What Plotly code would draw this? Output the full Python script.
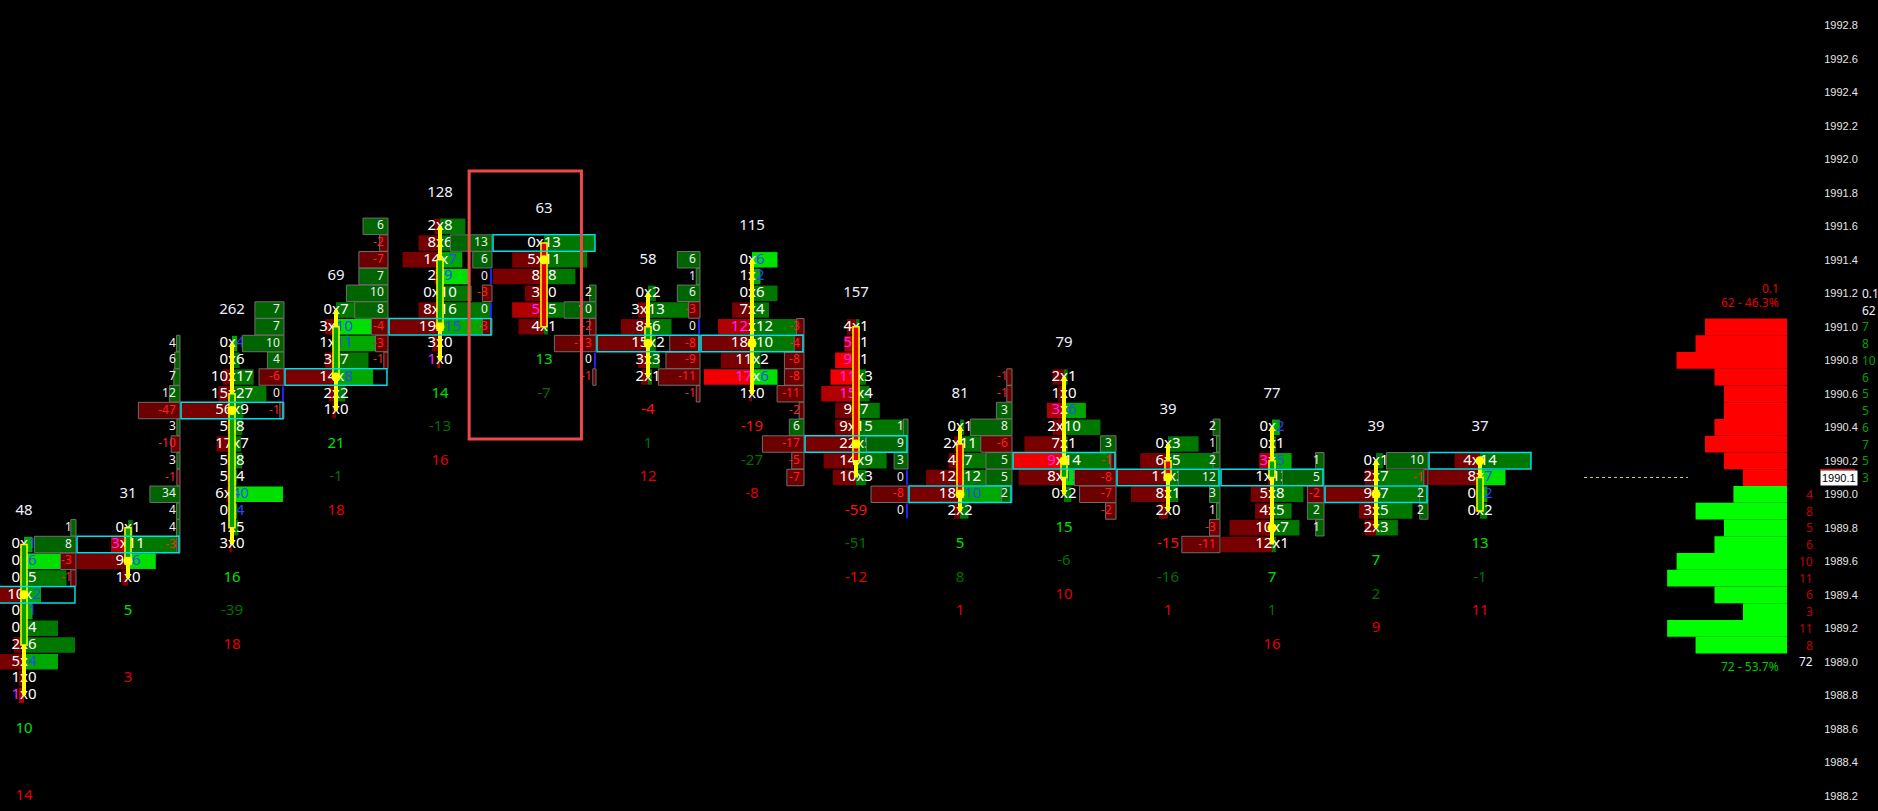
import plotly.graph_objects as go

# ---------------- data ----------------
# top price of each footprint candle, rows listed top -> bottom (tick 0.1)
C_TOP = [1989.7, 1989.8, 1990.9, 1991.1, 1991.6, 1991.5, 1991.2, 1991.4,
         1991.0, 1990.4, 1990.7, 1990.3, 1990.4, 1990.2, 1990.2]
BIDS = [
    [0, 0, 0, 10, 0, 0, 2, 5, 1, 1],
    [0, 3, 9, 1],
    [0, 0, 10, 15, 56, 5, 17, 5, 5, 6, 0, 1, 3],
    [0, 3, 1, 3, 14, 2, 1],
    [2, 8, 14, 2, 0, 8, 19, 3, 1],
    [0, 5, 8, 3, 5, 4],
    [0, 3, 8, 15, 3, 2],
    [0, 1, 0, 7, 12, 18, 11, 17, 1],
    [4, 5, 9, 11, 15, 9, 9, 22, 14, 10],
    [0, 2, 4, 12, 18, 2],
    [2, 1, 3, 2, 7, 9, 8, 0],
    [0, 6, 11, 8, 2],
    [0, 0, 3, 1, 5, 4, 10, 12],
    [0, 2, 9, 3, 2],
    [4, 8, 0, 0],
]
ASKS = [
    [1, 6, 5, 2, 1, 4, 6, 4, 0, 0],
    [1, 11, 6, 0],
    [4, 6, 17, 27, 9, 8, 7, 8, 4, 40, 4, 5, 0],
    [7, 10, 11, 7, 8, 2, 0],
    [8, 6, 7, 9, 10, 16, 15, 0, 0],
    [13, 11, 8, 0, 5, 1],
    [2, 13, 6, 2, 3, 1],
    [6, 2, 6, 4, 12, 10, 2, 6, 0],
    [1, 1, 1, 3, 4, 7, 15, 5, 9, 3],
    [1, 11, 7, 12, 10, 2],
    [1, 0, 6, 10, 1, 14, 13, 2],
    [3, 5, 3, 1, 0],
    [2, 1, 5, 13, 8, 5, 7, 1],
    [1, 7, 7, 5, 3],
    [14, 7, 2, 2],
]
OPEN = [1989.1, 1989.6, 1989.8, 1990.7, 1991.0, 1991.5, 1990.9, 1990.9,
        1991.0, 1990.3, 1990.1, 1990.2, 1990.1, 1990.0, 1989.9]
CLOSE = [1989.7, 1989.8, 1990.6, 1991.0, 1991.4, 1991.0, 1991.0, 1990.9,
         1990.2, 1990.0, 1990.2, 1990.1, 1990.2, 1990.0, 1990.1]
STAT2 = [None, None, -39, -1, -13, -7, 1, -27, -51, 8, -6, -16, 1, 2, -1]
STAT3 = [14, 3, 18, 18, 16, None, 12, -8, -12, 1, 10, 1, 16, 9, 11]

LAST_PRICE = 1990.1
TICK_SIZE_LABEL = "0.1"
PROFILE_UPPER_PRICES = [1991.0, 1990.9, 1990.8, 1990.7, 1990.6, 1990.5, 1990.4, 1990.3, 1990.2, 1990.1]
PROFILE_UPPER = [7, 8, 10, 6, 5, 5, 6, 7, 5, 3]
PROFILE_LOWER_PRICES = [1990.0, 1989.9, 1989.8, 1989.7, 1989.6, 1989.5, 1989.4, 1989.3, 1989.2, 1989.1]
PROFILE_LOWER = [4, 8, 5, 6, 10, 11, 6, 3, 11, 8]

Y_TICKS = [1988.2, 1988.4, 1988.6, 1988.8, 1989.0, 1989.2, 1989.4, 1989.6,
           1989.8, 1990.0, 1990.2, 1990.4, 1990.6, 1990.8, 1991.0, 1991.2,
           1991.4, 1991.6, 1991.8, 1992.0, 1992.2, 1992.4, 1992.6, 1992.8]
Y_TICK_LABELS = [f"{v:.1f}" for v in Y_TICKS]

HIGHLIGHT_CANDLE = 5
HIGHLIGHT_PRICE_LOW = 1990.33
HIGHLIGHT_PRICE_HIGH = 1991.93

# ---------------- style ----------------
FONT = "Noto Sans"
PLOT_W = 1787          # px width of plotting area
TICK = 0.1
HALF = 0.49            # max half-width of bid/ask bars (candle units)
DELTA_W = 0.40         # max width of delta column boxes
DELTA_MIN = 0.03
ROW_H = 0.092
PROFILE_PAD = 1.658    # minimum length added to profile bars
X_MIN = -24 / 104
X_MAX = (PLOT_W - 24) / 104

N = len(C_TOP)

bid_y, bid_base, bid_len, bid_col = [], [], [], []
ask_y, ask_base, ask_len, ask_col = [], [], [], []
txt_x, txt_y, txt_s = [], [], []
d_y, d_base, d_len, d_col = [], [], [], []
z_y, z_base = [], []
dt_x, dt_y, dt_s, dt_c = [], [], [], []
cy_y, cy_base = [], []
poc_x, poc_y = [], []
wick_x, wick_y = [], []
body_x, body_base, body_h, body_col = [], [], [], []
top_x, top_y, top_s = [], [], []
st_x, st_y, st_s, st_c = [], [], [], []

for i in range(N):
    bids, asks = BIDS[i], ASKS[i]
    n = len(bids)
    prices = [round(C_TOP[i] - TICK * k, 1) for k in range(n)]
    mb = max(bids) or 1
    ma = max(asks) or 1
    deltas = [a - b for a, b in zip(asks, bids)]
    md = max(abs(d) for d in deltas) or 1
    delta_visible = (i - 0.5) > X_MIN
    for k in range(n):
        b, a, p = bids[k], asks[k], prices[k]
        has_above = k > 0
        has_below = k < n - 1
        ask_above = asks[k - 1] if has_above else 0
        bid_below = bids[k + 1] if has_below else 0
        bid_imb = has_above and b > 0 and b >= 3 * ask_above
        ask_imb = has_below and a > 0 and a >= 3 * bid_below
        if b > 0:
            bid_y.append(p); bid_base.append(i); bid_len.append(-b / mb * HALF)
            if bid_imb:
                bid_col.append("#f00000" if b / max(ask_above, 1) >= 6 else "#b00000")
            else:
                bid_col.append("#780000")
        if a > 0:
            ask_y.append(p); ask_base.append(i); ask_len.append(a / ma * HALF)
            if ask_imb:
                ask_col.append("#00e000" if a / max(bid_below, 1) >= 6 else "#00a800")
            else:
                ask_col.append("#007800")
        bs = f'<span style="color:#ff20ff">{b}</span>' if bid_imb else f"{b}"
        as_ = f'<span style="color:#2848ff">{a}</span>' if ask_imb else f"{a}"
        txt_x.append(i); txt_y.append(p); txt_s.append(f"{bs}x{as_}")
        # delta column (left of candle)
        if delta_visible:
            d = deltas[k]
            if d == 0:
                z_y.append(p); z_base.append(i - 0.5)
            else:
                d_y.append(p); d_base.append(i - 0.5)
                d_len.append(-max(abs(d) / md * DELTA_W, DELTA_MIN))
                d_col.append("#006400" if d > 0 else "#6b0000")
            dt_x.append(i - 0.5 - 0.04); dt_y.append(p); dt_s.append(str(d))
            dt_c.append("#f0f0f0" if d >= 0 else "#ff2020")
    # max single volume row (cyan), POC (dot)
    singles = [max(b, a) for b, a in zip(bids, asks)]
    cy_y.append(prices[singles.index(max(singles))]); cy_base.append(i - HALF)
    tots = [b + a for b, a in zip(bids, asks)]
    poc_x.append(i); poc_y.append(prices[tots.index(max(tots))])
    hi, lo = prices[0], prices[-1]
    wick_x += [i, i, None]; wick_y += [hi, lo, None]
    if OPEN[i] != CLOSE[i]:
        body_x.append(i); body_base.append(min(OPEN[i], CLOSE[i]))
        body_h.append(abs(CLOSE[i] - OPEN[i]))
        body_col.append("#00a000" if CLOSE[i] > OPEN[i] else "#e00000")
    top_x.append(i); top_y.append(hi + 0.2); top_s.append(str(sum(tots)))
    dsum = sum(deltas)
    st_x.append(i); st_y.append(lo - 0.2); st_s.append(str(dsum))
    st_c.append("#00e000" if dsum >= 0 else "#ff1010")
    if STAT2[i] is not None:
        st_x.append(i); st_y.append(lo - 0.4); st_s.append(str(STAT2[i])); st_c.append("#007000")
    if STAT3[i] is not None:
        st_x.append(i); st_y.append(lo - 0.6); st_s.append(str(STAT3[i])); st_c.append("#e00000")

fig = go.Figure()
common = dict(hoverinfo="skip", showlegend=False)

fig.add_trace(go.Bar(orientation="h", y=bid_y, x=bid_len, base=bid_base, width=ROW_H,
                     marker=dict(color=bid_col, line_width=0), zorder=0, **common))
fig.add_trace(go.Bar(orientation="h", y=ask_y, x=ask_len, base=ask_base, width=ROW_H,
                     marker=dict(color=ask_col, line_width=0), zorder=0, **common))
fig.add_trace(go.Scatter(x=txt_x, y=txt_y, text=txt_s, mode="text", textposition="middle center",
                         textfont=dict(family=FONT, size=15, color="#ffffff"), zorder=1, **common))
fig.add_trace(go.Scatter(x=wick_x, y=wick_y, mode="lines", line=dict(color="#ffff00", width=4),
                         zorder=2, **common))
fig.add_trace(go.Bar(x=body_x, y=body_h, base=body_base, width=0.058,
                     marker=dict(color=body_col, line=dict(color="#ffff00", width=1.5)),
                     zorder=3, **common))
fig.add_trace(go.Scatter(x=poc_x, y=poc_y, mode="markers",
                         marker=dict(color="#ffff00", size=9), zorder=4, **common))
fig.add_trace(go.Bar(orientation="h", y=d_y, x=d_len, base=d_base, width=0.098,
                     marker=dict(color=d_col, line=dict(color="#6e6e6e", width=1)), zorder=5, **common))
fig.add_trace(go.Bar(orientation="h", y=z_y, x=[-0.018] * len(z_y), base=z_base, width=0.09,
                     marker=dict(color="#2020ff", line_width=0), zorder=5, **common))
fig.add_trace(go.Bar(orientation="h", y=cy_y, x=[2 * HALF] * len(cy_y), base=cy_base, width=0.098,
                     marker=dict(color="rgba(0,0,0,0)", line=dict(color="#00e0e8", width=1.5)),
                     zorder=5, **common))
fig.add_trace(go.Scatter(x=dt_x, y=dt_y, text=dt_s, mode="text", textposition="middle left",
                         textfont=dict(family=FONT, size=12, color=dt_c), zorder=6, **common))
fig.add_trace(go.Scatter(x=top_x, y=top_y, text=top_s, mode="text", textposition="middle center",
                         textfont=dict(family=FONT, size=15, color="#eef0ff"), zorder=6, **common))
fig.add_trace(go.Scatter(x=st_x, y=st_y, text=st_s, mode="text", textposition="middle center",
                         textfont=dict(family=FONT, size=15, color=st_c), zorder=6, **common))
# last price dotted line in next slot
fig.add_trace(go.Scatter(x=[N, N + 1], y=[LAST_PRICE, LAST_PRICE], mode="lines",
                         line=dict(color="#d8d800", width=1, dash="dot"), zorder=6, **common))
# volume profile
fig.add_trace(go.Bar(orientation="h", y=PROFILE_UPPER_PRICES, x=[v + PROFILE_PAD for v in PROFILE_UPPER],
                     base=-PROFILE_PAD, width=TICK, xaxis="x2", yaxis="y",
                     marker=dict(color="#ff0000", line_width=0), **common))
fig.add_trace(go.Bar(orientation="h", y=PROFILE_LOWER_PRICES, x=[v + PROFILE_PAD for v in PROFILE_LOWER],
                     base=-PROFILE_PAD, width=TICK, xaxis="x2", yaxis="y",
                     marker=dict(color="#00ff00", line_width=0), **common))

up_sum, lo_sum = sum(PROFILE_UPPER), sum(PROFILE_LOWER)
tot = up_sum + lo_sum
ann = []
def px(v):
    return v / PLOT_W
for p, v in zip(PROFILE_UPPER_PRICES, PROFILE_UPPER):
    ann.append(dict(x=px(1860), y=p, text=str(v), xanchor="left", font=dict(color="#00a000", size=12, family=FONT)))
for p, v in zip(PROFILE_LOWER_PRICES, PROFILE_LOWER):
    ann.append(dict(x=px(1815), y=p, text=str(v), xanchor="right", font=dict(color="#c40000", size=12, family=FONT)))
top_p = PROFILE_UPPER_PRICES[0]
bot_p = PROFILE_LOWER_PRICES[-1]
ann.append(dict(x=px(1860), y=round(top_p + 2 * TICK, 1), text=TICK_SIZE_LABEL, xanchor="left",
                font=dict(color="#eef0ff", size=12, family=FONT)))
ann.append(dict(x=px(1860), y=round(top_p + TICK, 1), text=str(up_sum), xanchor="left",
                font=dict(color="#eef0ff", size=12, family=FONT)))
ann.append(dict(x=px(1815), y=round(bot_p - TICK, 1), text=str(lo_sum), xanchor="right",
                font=dict(color="#eef0ff", size=12, family=FONT)))
ann.append(dict(x=px(1781), y=top_p + 0.226, text=TICK_SIZE_LABEL, xanchor="right",
                font=dict(color="#e00000", size=12, family=FONT)))
ann.append(dict(x=px(1781), y=top_p + 0.142, text=f"{up_sum} - {up_sum / tot * 100:.1f}%", xanchor="right",
                font=dict(color="#e00000", size=12, family=FONT)))
ann.append(dict(x=px(1781), y=bot_p - 0.13, text=f"{lo_sum} - {lo_sum / tot * 100:.1f}%", xanchor="right",
                font=dict(color="#00c800", size=12, family=FONT)))
ann.append(dict(x=px(1820), y=LAST_PRICE, text=f"{LAST_PRICE:.1f}", xanchor="left", bgcolor="#ffffff",
                borderpad=1, font=dict(color="#000000", size=11, family="Liberation Sans")))
for a in ann:
    a.update(xref="paper", yref="y", showarrow=False, yanchor="middle")

shapes = [
    dict(type="rect", xref="x", yref="y", x0=HIGHLIGHT_CANDLE - 0.72, x1=HIGHLIGHT_CANDLE + 0.36,
         y0=HIGHLIGHT_PRICE_LOW, y1=HIGHLIGHT_PRICE_HIGH, line=dict(color="#f04848", width=3),
         fillcolor="rgba(0,0,0,0)", layer="above"),
    dict(type="line", xref="paper", yref="y", x0=px(1820), x1=px(1855),
         y0=LAST_PRICE + 0.046, y1=LAST_PRICE + 0.046, line=dict(color="#ff0000", width=1.5)),
]

fig.update_layout(
    width=1878, height=811, margin=dict(l=0, r=91, t=0, b=0),
    paper_bgcolor="#000000", plot_bgcolor="#000000",
    barmode="overlay", showlegend=False,
    xaxis=dict(range=[X_MIN, X_MAX], visible=False, showgrid=False, zeroline=False),
    xaxis2=dict(domain=[1640 / PLOT_W, 1], range=[-PROFILE_PAD + 147 / 9.47, -PROFILE_PAD], anchor="y",
                visible=False, showgrid=False, zeroline=False),
    yaxis=dict(range=[1988.109, 1992.951], side="right", tickvals=Y_TICKS, ticktext=Y_TICK_LABELS,
               tickfont=dict(color="#e6e6e6", size=11, family="Liberation Sans"),
               showgrid=False, zeroline=False, showline=True, linecolor="#ffffff", linewidth=1,
               ticks="", ticklabelstandoff=34),
    annotations=ann, shapes=shapes,
)

fig.write_html("out.html", config={"displayModeBar": False},
               post_script="document.body.style.margin='0px';")
